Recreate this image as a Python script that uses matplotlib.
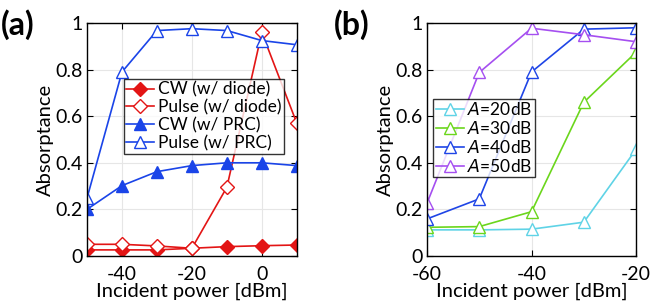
import numpy as np
import matplotlib.pyplot as plt

plt.rcParams['font.family'] = ['Lato', 'DejaVu Sans']
plt.rcParams['axes.unicode_minus'] = False

# panel (a)
xa = [-50, -40, -30, -20, -10, 0, 10]
cw_diode = [0.026, 0.026, 0.026, 0.033, 0.040, 0.044, 0.047]
pulse_diode = [0.050, 0.050, 0.043, 0.033, 0.295, 0.960, 0.570]
cw_prc = [0.200, 0.302, 0.362, 0.388, 0.400, 0.400, 0.388]
pulse_prc = [0.248, 0.790, 0.968, 0.976, 0.968, 0.925, 0.907]

# panel (b)
xb = [-60, -50, -40, -30, -20]
a20 = [0.112, 0.112, 0.115, 0.145, 0.458]
a30 = [0.123, 0.126, 0.190, 0.660, 0.875]
a40 = [0.159, 0.245, 0.790, 0.974, 0.980]
a50 = [0.226, 0.788, 0.978, 0.950, 0.920]

red = '#e31515'
blue = '#1a44e8'

fig = plt.figure(figsize=(6.64, 3.08), dpi=100)
axa = fig.add_axes([0.131, 0.169, 0.316, 0.756])
axb = fig.add_axes([0.643, 0.169, 0.315, 0.756])

ms = 8
axa.plot(xa, cw_diode, '-D', color=red, mfc=red, ms=ms - 0.5, lw=1.2, label='CW (w/ diode)')
axa.plot(xa, pulse_diode, '-D', color=red, mfc='white', ms=ms - 0.5, lw=1.2, label='Pulse (w/ diode)')
axa.plot(xa, cw_prc, '-^', color=blue, mfc=blue, ms=ms, lw=1.2, label='CW (w/ PRC)')
axa.plot(xa, pulse_prc, '-^', color=blue, mfc='white', ms=ms, lw=1.2, label='Pulse (w/ PRC)')
axa.set_xlim(-50, 10)
axa.set_xticks([-40, -20, 0])

cols = ['#5fd3e6', '#6bd61c', '#1f45e6', '#a54ff0']
for vals, c, lab in zip([a20, a30, a40, a50], cols, ['20', '30', '40', '50']):
    axb.plot(xb, vals, '-^', color=c, mfc='white', ms=ms, lw=1.2, label='$A$=' + lab + 'dB')
axb.set_xlim(-60, -20)
axb.set_xticks([-60, -40, -20])

for ax, tag in [(axa, '(a)'), (axb, '(b)')]:
    ax.set_ylim(0, 1)
    ax.set_yticks([0, 0.2, 0.4, 0.6, 0.8, 1])
    ax.set_yticklabels(['0', '0.2', '0.4', '0.6', '0.8', '1'])
    ax.grid(True, color='#e6e6e6', lw=0.8)
    ax.set_axisbelow(True)
    ax.tick_params(direction='in', top=True, right=True, labelsize=14, length=4)
    ax.tick_params(axis='x', pad=7)
    ax.tick_params(axis='y', pad=3)
    for s in ax.spines.values():
        s.set_linewidth(1.0)
    ax.set_xlabel('Incident power [dBm]', fontsize=14.5, labelpad=0)
    ax.set_ylabel('Absorptance', fontsize=14.5, labelpad=1)

fig.text(0.002, 0.97, '(a)', fontsize=23, fontweight='bold', va='top')
fig.text(0.503, 0.97, '(b)', fontsize=23, fontweight='bold', va='top')

leg_a = axa.legend(loc='upper left', bbox_to_anchor=(0.175, 0.76), fontsize=12.5,
                   handlelength=1.6, handletextpad=0.2, borderpad=0.15, labelspacing=0.1,
                   borderaxespad=0, fancybox=False, edgecolor='black', framealpha=0.8)
leg_a.get_frame().set_linewidth(1.0)
leg_b = axb.legend(loc='upper left', bbox_to_anchor=(0.03, 0.675), fontsize=12.5,
                   handlelength=1.6, handletextpad=0.2, borderpad=0.15, labelspacing=0.1,
                   borderaxespad=0, fancybox=False, edgecolor='black', framealpha=0.8)
leg_b.get_frame().set_linewidth(1.0)

fig.savefig('out.png', dpi=100)
